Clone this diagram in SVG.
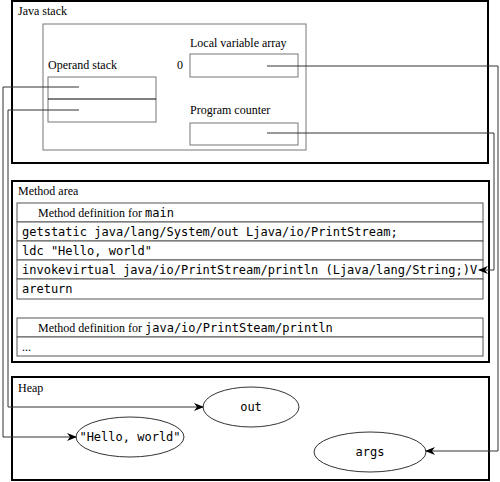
<svg xmlns="http://www.w3.org/2000/svg" width="500" height="482" viewBox="0 0 500 482">
<defs>
<marker id="arr" markerWidth="10" markerHeight="8" refX="9" refY="4" orient="auto" markerUnits="userSpaceOnUse">
<path d="M0,0 L10,4 L0,8 L3,4 Z" fill="#000"/>
</marker>
<style>
.outer{fill:none;stroke:#000;stroke-width:2}
.inner{fill:none;stroke:#777;stroke-width:1}
.row{fill:#fff;stroke:#555;stroke-width:1}
.serif{font-family:"Liberation Serif","Times New Roman",serif;font-size:12px;fill:#000}
.mono{font-family:"DejaVu Sans Mono",monospace;font-size:12px;fill:#000}
.conn{fill:none;stroke:#333;stroke-width:1}
.ell{fill:#fff;stroke:#333;stroke-width:1}
</style>
</defs>
<rect width="500" height="482" fill="#fff"/>

<g id="java-stack">
<rect class="outer" x="12" y="1" width="476" height="162"/>
<text class="serif" x="18" y="15">Java stack</text>
<rect class="inner" x="43" y="24" width="263" height="126"/>
</g>

<g id="operand-stack">
<text class="serif" x="48" y="69">Operand stack</text>
<rect class="inner" x="48" y="77" width="108" height="45"/>
<line x1="48" y1="99" x2="156" y2="99" stroke="#000" stroke-width="1"/>
</g>

<g id="local-variable-array">
<text class="serif" x="190" y="47">Local variable array</text>
<text class="serif" x="177" y="69">0</text>
<rect class="inner" x="190" y="54" width="108" height="23"/>
</g>

<g id="program-counter">
<text class="serif" x="190" y="114">Program counter</text>
<rect class="inner" x="190" y="123" width="108" height="22"/>
</g>

<g id="method-area">
<rect class="outer" x="12" y="181" width="477" height="181"/>
<text class="serif" x="18" y="195">Method area</text>
</g>

<g id="method-main">
<rect class="row" x="17" y="203" width="466" height="19"/>
<text class="serif" x="38" y="217">Method definition for <tspan class="mono">main</tspan></text>
<rect class="row" x="17" y="222" width="466" height="19"/>
<text class="mono" x="22" y="236">getstatic java/lang/System/out Ljava/io/PrintStream;</text>
<rect class="row" x="17" y="241" width="466" height="19"/>
<text class="mono" x="22" y="255">ldc "Hello, world"</text>
<rect class="row" x="17" y="260" width="466" height="19"/>
<text class="mono" x="22" y="274">invokevirtual java/io/PrintStream/println (Ljava/lang/String;)V</text>
<rect class="row" x="17" y="279" width="466" height="20"/>
<text class="mono" x="22" y="293">areturn</text>
</g>

<g id="method-println">
<rect class="row" x="17" y="318" width="466" height="19"/>
<text class="serif" x="38" y="332">Method definition for <tspan class="mono">java/io/PrintSteam/println</tspan></text>
<rect class="row" x="17" y="337" width="466" height="19"/>
<text class="serif" x="22" y="351">...</text>
</g>

<g id="heap">
<rect class="outer" x="12" y="377" width="477" height="103"/>
<text class="serif" x="18" y="392">Heap</text>
</g>

<g id="obj-out">
<ellipse class="ell" cx="251" cy="407" rx="48" ry="20"/>
<text class="mono" x="251" y="411" text-anchor="middle">out</text>
</g>
<g id="obj-hello">
<ellipse class="ell" cx="130" cy="437" rx="54" ry="20"/>
<text class="mono" x="130" y="441" text-anchor="middle">"Hello, world"</text>
</g>
<g id="obj-args">
<ellipse class="ell" cx="370" cy="452" rx="56" ry="20"/>
<text class="mono" x="370" y="456" text-anchor="middle">args</text>
</g>

<g id="connectors">
<polyline class="conn" points="79,87 3,87 3,437 76,437" marker-end="url(#arr)"/>
<polyline class="conn" points="79,110 8,110 8,407 203,407" marker-end="url(#arr)"/>
<polyline class="conn" points="267,66 498,66 498,451 426,451" marker-end="url(#arr)"/>
<polyline class="conn" points="267,133 494,133 494,270 479,270" marker-end="url(#arr)"/>
</g>
</svg>
